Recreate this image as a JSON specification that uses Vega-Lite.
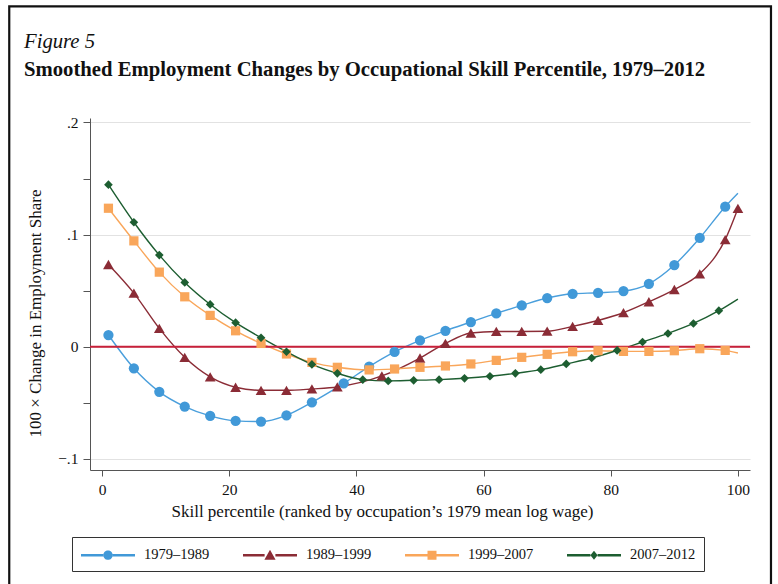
{
  "$schema": "https://vega.github.io/schema/vega-lite/v6.json",
  "width": 660,
  "height": 352,
  "autosize": {"type": "none"},
  "padding": {"left": 90, "top": 118, "right": 28, "bottom": 114},
  "background": "white",
  "title": {
    "text": "Figure 5",
    "subtitle": "Smoothed Employment Changes by Occupational Skill Percentile, 1979–2012",
    "anchor": "start",
    "frame": "group",
    "dx": -66,
    "offset": -75,
    "font": "Liberation Serif",
    "fontStyle": "italic",
    "fontWeight": "normal",
    "fontSize": 20.7,
    "color": "#111111",
    "subtitleFont": "Liberation Serif",
    "subtitleFontSize": 20.7,
    "subtitleFontWeight": "bold",
    "subtitleFontStyle": "normal",
    "subtitleColor": "#111111",
    "subtitlePadding": 7
  },
  "datasets": {
    "pts": [
      {"s": "1979–1989", "x": 1, "y": 0.0104, "k": "m"},
      {"s": "1979–1989", "x": 5, "y": -0.0193, "k": "m"},
      {"s": "1979–1989", "x": 9, "y": -0.0403, "k": "m"},
      {"s": "1979–1989", "x": 13, "y": -0.0534, "k": "m"},
      {"s": "1979–1989", "x": 17, "y": -0.0617, "k": "m"},
      {"s": "1979–1989", "x": 21, "y": -0.0662, "k": "m"},
      {"s": "1979–1989", "x": 25, "y": -0.0668, "k": "m"},
      {"s": "1979–1989", "x": 29, "y": -0.0612, "k": "m"},
      {"s": "1979–1989", "x": 33, "y": -0.0496, "k": "m"},
      {"s": "1979–1989", "x": 38, "y": -0.0327, "k": "m"},
      {"s": "1979–1989", "x": 42, "y": -0.0178, "k": "m"},
      {"s": "1979–1989", "x": 46, "y": -0.0047, "k": "m"},
      {"s": "1979–1989", "x": 50, "y": 0.0056, "k": "m"},
      {"s": "1979–1989", "x": 54, "y": 0.0142, "k": "m"},
      {"s": "1979–1989", "x": 58, "y": 0.0220, "k": "m"},
      {"s": "1979–1989", "x": 62, "y": 0.0297, "k": "m"},
      {"s": "1979–1989", "x": 66, "y": 0.0368, "k": "m"},
      {"s": "1979–1989", "x": 70, "y": 0.0434, "k": "m"},
      {"s": "1979–1989", "x": 74, "y": 0.0472, "k": "m"},
      {"s": "1979–1989", "x": 78, "y": 0.0481, "k": "m"},
      {"s": "1979–1989", "x": 82, "y": 0.0496, "k": "m"},
      {"s": "1979–1989", "x": 86, "y": 0.0561, "k": "m"},
      {"s": "1979–1989", "x": 90, "y": 0.0728, "k": "m"},
      {"s": "1979–1989", "x": 94, "y": 0.0970, "k": "m"},
      {"s": "1979–1989", "x": 98, "y": 0.1249, "k": "m"},
      {"s": "1979–1989", "x": 100, "y": 0.1369, "k": "e"},

      {"s": "1989–1999", "x": 1, "y": 0.0733, "k": "m"},
      {"s": "1989–1999", "x": 5, "y": 0.0478, "k": "m"},
      {"s": "1989–1999", "x": 9, "y": 0.0163, "k": "m"},
      {"s": "1989–1999", "x": 13, "y": -0.0095, "k": "m"},
      {"s": "1989–1999", "x": 17, "y": -0.0270, "k": "m"},
      {"s": "1989–1999", "x": 21, "y": -0.0362, "k": "m"},
      {"s": "1989–1999", "x": 25, "y": -0.0389, "k": "m"},
      {"s": "1989–1999", "x": 29, "y": -0.0389, "k": "m"},
      {"s": "1989–1999", "x": 33, "y": -0.0377, "k": "m"},
      {"s": "1989–1999", "x": 37, "y": -0.0359, "k": "m"},
      {"s": "1989–1999", "x": 44, "y": -0.0261, "k": "m"},
      {"s": "1989–1999", "x": 50, "y": -0.0101, "k": "m"},
      {"s": "1989–1999", "x": 54, "y": 0.0029, "k": "m"},
      {"s": "1989–1999", "x": 58, "y": 0.0122, "k": "m"},
      {"s": "1989–1999", "x": 62, "y": 0.0136, "k": "m"},
      {"s": "1989–1999", "x": 66, "y": 0.0136, "k": "m"},
      {"s": "1989–1999", "x": 70, "y": 0.0138, "k": "m"},
      {"s": "1989–1999", "x": 74, "y": 0.0181, "k": "m"},
      {"s": "1989–1999", "x": 78, "y": 0.0234, "k": "m"},
      {"s": "1989–1999", "x": 82, "y": 0.0303, "k": "m"},
      {"s": "1989–1999", "x": 86, "y": 0.0401, "k": "m"},
      {"s": "1989–1999", "x": 90, "y": 0.0510, "k": "m"},
      {"s": "1989–1999", "x": 94, "y": 0.0650, "k": "m"},
      {"s": "1989–1999", "x": 98, "y": 0.0955, "k": "m"},
      {"s": "1989–1999", "x": 100, "y": 0.1233, "k": "m"},

      {"s": "1999–2007", "x": 1, "y": 0.1235, "k": "m"},
      {"s": "1999–2007", "x": 5, "y": 0.0944, "k": "m"},
      {"s": "1999–2007", "x": 9, "y": 0.0665, "k": "m"},
      {"s": "1999–2007", "x": 13, "y": 0.0445, "k": "m"},
      {"s": "1999–2007", "x": 17, "y": 0.0279, "k": "m"},
      {"s": "1999–2007", "x": 21, "y": 0.0142, "k": "m"},
      {"s": "1999–2007", "x": 25, "y": 0.0029, "k": "m"},
      {"s": "1999–2007", "x": 29, "y": -0.0065, "k": "m"},
      {"s": "1999–2007", "x": 33, "y": -0.0140, "k": "m"},
      {"s": "1999–2007", "x": 37, "y": -0.0184, "k": "m"},
      {"s": "1999–2007", "x": 42, "y": -0.0207, "k": "m"},
      {"s": "1999–2007", "x": 46, "y": -0.0199, "k": "m"},
      {"s": "1999–2007", "x": 50, "y": -0.0184, "k": "m"},
      {"s": "1999–2007", "x": 54, "y": -0.0172, "k": "m"},
      {"s": "1999–2007", "x": 58, "y": -0.0154, "k": "m"},
      {"s": "1999–2007", "x": 62, "y": -0.0122, "k": "m"},
      {"s": "1999–2007", "x": 66, "y": -0.0095, "k": "m"},
      {"s": "1999–2007", "x": 70, "y": -0.0068, "k": "m"},
      {"s": "1999–2007", "x": 74, "y": -0.0045, "k": "m"},
      {"s": "1999–2007", "x": 78, "y": -0.0036, "k": "m"},
      {"s": "1999–2007", "x": 82, "y": -0.0042, "k": "m"},
      {"s": "1999–2007", "x": 86, "y": -0.0042, "k": "m"},
      {"s": "1999–2007", "x": 90, "y": -0.0036, "k": "m"},
      {"s": "1999–2007", "x": 94, "y": -0.0018, "k": "m"},
      {"s": "1999–2007", "x": 98, "y": -0.0033, "k": "m"},
      {"s": "1999–2007", "x": 100, "y": -0.0056, "k": "e"},

      {"s": "2007–2012", "x": 1, "y": 0.1445, "k": "m"},
      {"s": "2007–2012", "x": 5, "y": 0.1110, "k": "m"},
      {"s": "2007–2012", "x": 9, "y": 0.0817, "k": "m"},
      {"s": "2007–2012", "x": 13, "y": 0.0573, "k": "m"},
      {"s": "2007–2012", "x": 17, "y": 0.0377, "k": "m"},
      {"s": "2007–2012", "x": 21, "y": 0.0214, "k": "m"},
      {"s": "2007–2012", "x": 25, "y": 0.0080, "k": "m"},
      {"s": "2007–2012", "x": 29, "y": -0.0045, "k": "m"},
      {"s": "2007–2012", "x": 33, "y": -0.0158, "k": "m"},
      {"s": "2007–2012", "x": 37, "y": -0.0238, "k": "m"},
      {"s": "2007–2012", "x": 41, "y": -0.0294, "k": "m"},
      {"s": "2007–2012", "x": 45, "y": -0.0305, "k": "m"},
      {"s": "2007–2012", "x": 49, "y": -0.0300, "k": "m"},
      {"s": "2007–2012", "x": 53, "y": -0.0294, "k": "m"},
      {"s": "2007–2012", "x": 57, "y": -0.0282, "k": "m"},
      {"s": "2007–2012", "x": 61, "y": -0.0264, "k": "m"},
      {"s": "2007–2012", "x": 65, "y": -0.0238, "k": "m"},
      {"s": "2007–2012", "x": 69, "y": -0.0205, "k": "m"},
      {"s": "2007–2012", "x": 73, "y": -0.0154, "k": "m"},
      {"s": "2007–2012", "x": 77, "y": -0.0101, "k": "m"},
      {"s": "2007–2012", "x": 81, "y": -0.0033, "k": "m"},
      {"s": "2007–2012", "x": 85, "y": 0.0042, "k": "m"},
      {"s": "2007–2012", "x": 89, "y": 0.0118, "k": "m"},
      {"s": "2007–2012", "x": 93, "y": 0.0207, "k": "m"},
      {"s": "2007–2012", "x": 97, "y": 0.0321, "k": "m"},
      {"s": "2007–2012", "x": 100, "y": 0.0425, "k": "e"}
    ]
  },
  "layer": [
    {
      "data": {"name": "pts"},
      "mark": {"type": "line", "strokeWidth": 1.4, "interpolate": "monotone"},
      "encoding": {
        "x": {
          "field": "x",
          "type": "quantitative",
          "scale": {"domain": [-1.9, 101.9], "nice": false, "zero": false},
          "axis": {
            "title": "Skill percentile (ranked by occupation’s 1979 mean log wage)",
            "values": [0, 20, 40, 60, 80, 100],
            "grid": false,
            "tickSize": 6,
            "tickColor": "#555555",
            "domainColor": "#555555",
            "labelFont": "Liberation Serif",
            "labelFontSize": 15.5,
            "labelColor": "#111111",
            "labelPadding": 6,
            "titleFont": "Liberation Serif",
            "titleFontSize": 17,
            "titleFontWeight": "normal",
            "titleColor": "#111111",
            "titlePadding": 6,
            "titleX": 292
          }
        },
        "y": {
          "field": "y",
          "type": "quantitative",
          "scale": {"domain": [-0.11, 0.204], "nice": false, "zero": false},
          "axis": {
            "title": "100 × Change in Employment Share",
            "values": [-0.1, -0.05, 0, 0.05, 0.1, 0.15, 0.2],
            "labelExpr": "datum.value == 0.2 ? '.2' : datum.value == 0.1 ? '.1' : datum.value == 0 ? '0' : datum.value == -0.1 ? '−.1' : ''",
            "grid": true,
            "gridColor": "#e2e2e2",
            "gridWidth": 1.2,
            "gridOpacity": {"condition": {"test": "abs(round(datum.value*20)) % 2 == 1", "value": 0}, "value": 1},
            "tickSize": 7,
            "tickColor": "#555555",
            "domainColor": "#555555",
            "labelFont": "Liberation Serif",
            "labelFontSize": 15.5,
            "labelColor": "#111111",
            "labelPadding": 5,
            "titleFont": "Liberation Serif",
            "titleFontSize": 17,
            "titleFontWeight": "normal",
            "titleColor": "#111111",
            "titlePadding": 13,
            "titleY": 195
          }
        },
        "stroke": {
          "field": "s", "type": "nominal",
          "scale": {"range": ["#4a9fdc", "#8b2c36", "#f9a65a", "#1d5e31"]},
          "legend": null
        },
        "detail": {"field": "s"}
      }
    },
    {
      "data": {"values": [{}]},
      "mark": {"type": "rule", "color": "#c8203a", "strokeWidth": 2},
      "encoding": {"y": {"datum": 0, "type": "quantitative"}}
    },
    {
      "data": {"values": [{}]},
      "mark": {"type": "rect", "filled": false, "stroke": "#111111", "strokeWidth": 2.2, "clip": false},
      "encoding": {
        "x": {"datum": -14.6, "type": "quantitative"},
        "x2": {"datum": 105.2},
        "y": {"datum": 0.3035, "type": "quantitative"},
        "y2": {"datum": -0.3}
      }
    },
    {
      "data": {"name": "pts"},
      "transform": [{"filter": "datum.k == 'm' && datum.s == '1979–1989'"}],
      "mark": {"type": "point", "shape": "circle", "filled": true, "opacity": 1, "size": 105, "color": "#4199d8"},
      "encoding": {"x": {"field": "x", "type": "quantitative"}, "y": {"field": "y", "type": "quantitative"}}
    },
    {
      "data": {"name": "pts"},
      "transform": [{"filter": "datum.k == 'm' && datum.s == '1989–1999'"}],
      "mark": {"type": "point", "shape": "triangle-up", "filled": true, "opacity": 1, "size": 115, "color": "#8b2c36"},
      "encoding": {"x": {"field": "x", "type": "quantitative"}, "y": {"field": "y", "type": "quantitative"}}
    },
    {
      "data": {"name": "pts"},
      "transform": [{"filter": "datum.k == 'm' && datum.s == '1999–2007'"}],
      "mark": {"type": "point", "shape": "square", "filled": true, "opacity": 1, "size": 85, "color": "#f9a65a"},
      "encoding": {"x": {"field": "x", "type": "quantitative"}, "y": {"field": "y", "type": "quantitative"}}
    },
    {
      "data": {"name": "pts"},
      "transform": [{"filter": "datum.k == 'm' && datum.s == '2007–2012'"}],
      "mark": {"type": "point", "shape": "diamond", "filled": true, "opacity": 1, "size": 75, "color": "#1d5e31"},
      "encoding": {"x": {"field": "x", "type": "quantitative"}, "y": {"field": "y", "type": "quantitative"}}
    },
    {
      "data": {"name": "pts"},
      "transform": [{"filter": "datum.k == 'none'"}],
      "mark": {"type": "point", "filled": true},
      "encoding": {
        "x": {"field": "x", "type": "quantitative"},
        "y": {"field": "y", "type": "quantitative"},
        "color": {
          "field": "s", "type": "nominal",
          "scale": {"domain": ["1979–1989", "1989–1999", "1999–2007", "2007–2012"], "range": ["#4199d8", "#8b2c36", "#f9a65a", "#1d5e31"]},
          "legend": {
            "title": null, "orient": "none", "legendX": -18, "legendY": 419,
            "direction": "horizontal", "columns": 4,
            "symbolSize": 324, "symbolOffset": 18, "labelOffset": 26, "columnPadding": 30,
            "labelFont": "Liberation Serif", "labelFontSize": 14.5, "labelColor": "#111111",
            "strokeColor": "#333333", "fillColor": "white", "padding": 8,
            "symbolOpacity": 1
          }
        },
        "shape": {
          "field": "s", "type": "nominal",
          "scale": {
            "domain": ["1979–1989", "1989–1999", "1999–2007", "2007–2012"],
            "range": [
              "M-3,-0.14H-0.5V0.14H-3Z M0.5,-0.14H3V0.14H0.5Z M-0.52,0A0.52,0.52,0,1,0,0.52,0A0.52,0.52,0,1,0,-0.52,0Z",
              "M-3,-0.14H-0.6V0.14H-3Z M0.6,-0.14H3V0.14H0.6Z M0,-0.62L0.62,0.48L-0.62,0.48Z",
              "M-3,-0.14H-0.5V0.14H-3Z M0.5,-0.14H3V0.14H0.5Z M-0.5,-0.5H0.5V0.5H-0.5Z",
              "M-3,-0.14H-0.4V0.14H-3Z M0.4,-0.14H3V0.14H0.4Z M0,-0.5L0.4,0L0,0.5L-0.4,0Z"
            ]
          },
          "legend": {
            "title": null, "orient": "none", "legendX": -18, "legendY": 419,
            "direction": "horizontal", "columns": 4,
            "symbolSize": 324, "symbolOffset": 18, "labelOffset": 26, "columnPadding": 30,
            "labelFont": "Liberation Serif", "labelFontSize": 14.5, "labelColor": "#111111",
            "strokeColor": "#333333", "fillColor": "white", "padding": 8,
            "symbolOpacity": 1
          }
        }
      }
    }
  ],
  "config": {
    "view": {"stroke": null}
  }
}
